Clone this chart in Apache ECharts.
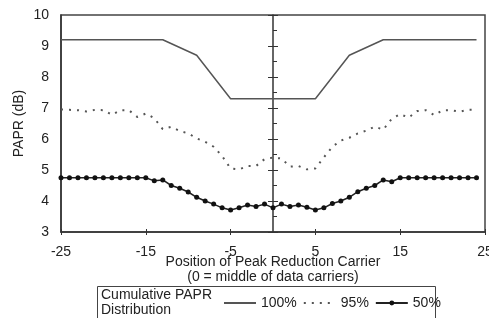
<!DOCTYPE html>
<html>
<head>
<meta charset="utf-8">
<script src="https://cdn.jsdelivr.net/npm/echarts@6/dist/echarts.min.js"></script>
<style>
  html, body { margin: 0; padding: 0; background: #fff; }
  #chart { width: 489px; height: 318px; }
</style>
</head>
<body>
<div id="chart"></div>
<script>
var FONT = 'Liberation Sans, Arial, sans-serif'

// carrier positions (0 = middle of data carriers)
var positions = [-25, -24, -23, -22, -21, -20, -19, -18, -17, -16, -15, -14, -13, -12, -11, -10, -9, -8, -7, -6,
  -5, -4, -3, -2, -1, 0, 1, 2, 3, 4, 5, 6, 7, 8, 9, 10, 11, 12, 13, 14,
  15, 16, 17, 18, 19, 20, 21, 22, 23, 24]

// 100% curve, only its corner points
var pos100 = [-25, -13, -9, -5, 5, 9, 13, 24]
var papr100 = [9.2, 9.2, 8.7, 7.3, 7.3, 8.7, 9.2, 9.2]

var papr95 = [6.95, 6.94, 6.93, 6.89, 6.94, 6.93, 6.78, 6.93, 6.93, 6.71, 6.82, 6.67, 6.32, 6.39, 6.26, 6.18, 6.02, 5.91, 5.75, 5.45,
  5.05, 5.02, 5.13, 5.13, 5.35, 5.40, 5.37, 5.11, 5.13, 5.02, 5.05, 5.41, 5.75, 5.95, 6.04, 6.18, 6.27, 6.40, 6.30, 6.65,
  6.80, 6.69, 6.90, 6.93, 6.77, 6.93, 6.93, 6.88, 6.94, 6.94]

var papr50 = [4.75, 4.75, 4.75, 4.75, 4.75, 4.75, 4.75, 4.75, 4.75, 4.75, 4.75, 4.65, 4.68, 4.50, 4.41, 4.29, 4.12, 4.00, 3.90, 3.78,
  3.71, 3.78, 3.87, 3.82, 3.90, 3.78, 3.90, 3.82, 3.87, 3.80, 3.71, 3.78, 3.92, 4.00, 4.12, 4.30, 4.41, 4.50, 4.68, 4.62,
  4.75, 4.75, 4.75, 4.75, 4.75, 4.75, 4.75, 4.75, 4.75, 4.75]

var legendNames = ['100%', '95%', '50%']

function pairs(xs, ys) {
  var out = []
  for (var i = 0; i < xs.length; i++) out.push([xs[i], ys[i]])
  return out
}

var axisColor = '#333'

var chart = echarts.init(document.getElementById('chart'))

var option = {
  animation: false,
  textStyle: { fontFamily: FONT },
  grid: {
    left: 61, right: 4, top: 15, bottom: 86,
    show: true, borderColor: '#444', borderWidth: 1.5,
    outerBoundsMode: 'none'
  },
  legend: {
    data: [
      { name: legendNames[0], itemStyle: { opacity: 0 } },
      { name: legendNames[1], itemStyle: { opacity: 0 } },
      { name: legendNames[2] }
    ],
    left: 223, top: 296, padding: 0,
    itemWidth: 32, itemHeight: 6, itemGap: 6,
    textStyle: { fontSize: 14, color: '#222', fontFamily: FONT }
  },
  xAxis: [
    {
      type: 'value', min: -25, max: 25, interval: 10,
      name: 'Position of Peak Reduction Carrier\n(0 = middle of data carriers)',
      nameLocation: 'middle', nameGap: 23, nameMoveOverlap: false,
      nameTextStyle: { fontSize: 14, color: '#222', lineHeight: 15, verticalAlign: 'top' },
      axisLine: { show: true, onZero: false, lineStyle: { color: axisColor, width: 1.5 } },
      axisTick: { show: true, length: 3, lineStyle: { color: axisColor } },
      axisLabel: { fontSize: 14, color: '#222', margin: 13 },
      splitLine: { show: false }
    },
    {
      type: 'value', min: -25, max: 25, interval: 10, position: 'bottom',
      axisLine: { show: false, onZero: false },
      axisTick: { show: true, inside: true, length: 3, lineStyle: { color: axisColor } },
      axisLabel: { show: false },
      splitLine: { show: false }
    }
  ],
  yAxis: [
    {
      type: 'value', min: 3, max: 10, interval: 1, position: 'left',
      name: 'PAPR (dB)', nameLocation: 'middle', nameGap: 35, nameMoveOverlap: false,
      nameTextStyle: { fontSize: 14, color: '#222' },
      axisLine: { show: true, onZero: false, lineStyle: { color: axisColor, width: 1.5 } },
      axisTick: { show: false },
      axisLabel: { fontSize: 14, color: '#222', margin: 12 },
      splitLine: { show: false }
    },
    {
      // centre line at position 0, ticks to the left
      type: 'value', min: 3, max: 10, interval: 1, position: 'left',
      axisLine: { show: true, onZero: true, onZeroAxisIndex: 0, lineStyle: { color: axisColor, width: 1.5 } },
      axisTick: { show: true, length: 5, lineStyle: { color: axisColor } },
      axisLabel: { show: false },
      splitLine: { show: false }
    },
    {
      // centre line, ticks to the right plus half-unit minor ticks
      type: 'value', min: 3, max: 10, interval: 1, position: 'left',
      axisLine: { show: false, onZero: true, onZeroAxisIndex: 0 },
      axisTick: { show: true, inside: true, length: 5, lineStyle: { color: axisColor } },
      minorTick: { show: true, splitNumber: 2, length: 4, lineStyle: { color: axisColor } },
      axisLabel: { show: false },
      splitLine: { show: false }
    }
  ],
  series: [
    {
      name: '100%', type: 'line',
      data: pairs(pos100, papr100),
      symbol: 'none',
      lineStyle: { color: '#555', width: 1.5 },
      itemStyle: { color: '#555' }
    },
    {
      name: '95%', type: 'line',
      data: pairs(positions, papr95),
      symbol: 'none',
      lineStyle: { color: '#555', width: 2, type: [2, 6] },
      itemStyle: { color: '#555' }
    },
    {
      name: '50%', type: 'line',
      data: pairs(positions, papr50),
      symbol: 'circle', symbolSize: 5,
      lineStyle: { color: '#222', width: 1.5 },
      itemStyle: { color: '#111' }
    }
  ],
  graphic: [
    {
      type: 'rect', silent: true,
      shape: { x: 97.5, y: 286.5, width: 338, height: 40 },
      style: { fill: 'none', stroke: '#444', lineWidth: 1 }
    },
    {
      type: 'text', left: 101, top: 288,
      style: { text: 'Cumulative PAPR\nDistribution', fontSize: 14, lineHeight: 15, fill: '#222', font: '14px ' + FONT }
    }
  ]
}

chart.setOption(option)
</script>
</body>
</html>
